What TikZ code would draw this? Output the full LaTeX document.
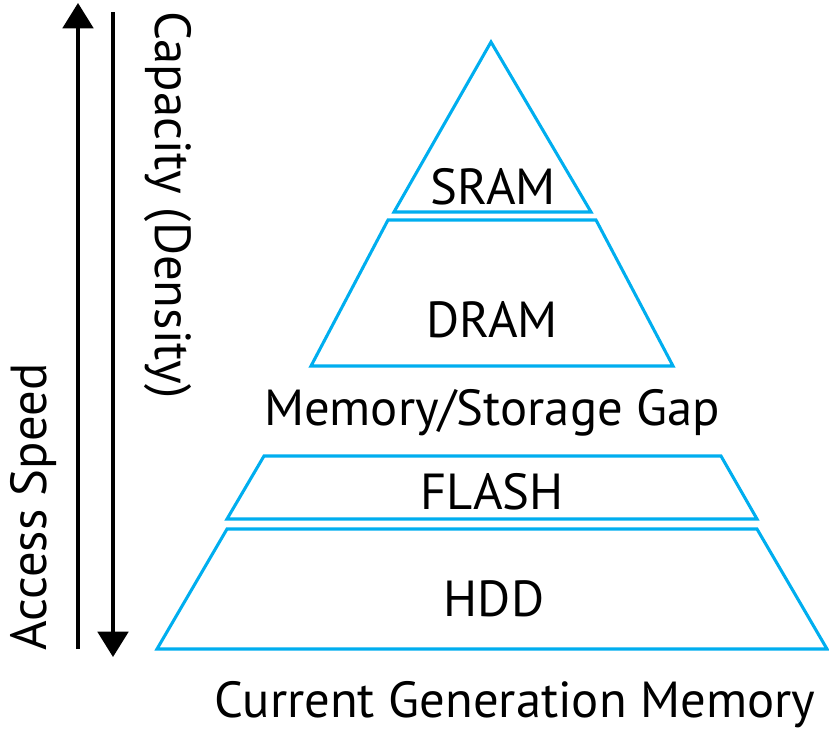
\documentclass[tikz,border=0pt]{standalone}
\usepackage{fontspec}
\setmainfont{PT Sans}
\usepackage{tikz}
\usetikzlibrary{arrows.meta}

\definecolor{layerblue}{RGB}{0,174,239}
\tikzset{
  layer/.style={draw=layerblue, line width=2.3pt, line join=miter},
  lbl/.style={font=\fontsize{38}{42}\selectfont, anchor=base, inner sep=0pt},
  axis/.style={line width=2.3pt, -{Triangle[length=19pt,width=23pt]}}
}

\begin{document}
\begin{tikzpicture}[x=0.75pt,y=-0.75pt]
\useasboundingbox (0,0) rectangle (829,729);

% pyramid layers
\draw[layer] (491,42) -- (591,212) -- (394,212) -- cycle;
\draw[layer] (388,220) -- (596,220) -- (673,366) -- (311,366) -- cycle;
\draw[layer] (264,456) -- (721,456) -- (757,519) -- (227,519) -- cycle;
\draw[layer] (227,529) -- (757,529) -- (827,649) -- (157,649) -- cycle;

% labels
\node[lbl] (sram) at (493,204) {SRAM};
\node[lbl] (dram) at (492,337) {DRAM};
\node[lbl] (gap) at (492,425) {Memory/Storage Gap};
\node[lbl] (flash) at (492,509) {FLASH};
\node[lbl] (hdd) at (494,616) {HDD};
\node[lbl] (current) at (515,717) {Current Generation Memory};

% side axes
\coordinate (speedlow) at (78,649);
\coordinate (speedhigh) at (78,3);
\coordinate (caphigh) at (113,12);
\coordinate (caplow) at (113,657);
\draw[axis] (speedlow) -- (speedhigh);
\draw[axis] (caphigh) -- (caplow);
\node[lbl, rotate=90] (speed) at (46,507) {Access Speed};
\node[lbl, rotate=-90] (capacity) at (155,205) {Capacity (Density)};
\end{tikzpicture}
\end{document}
